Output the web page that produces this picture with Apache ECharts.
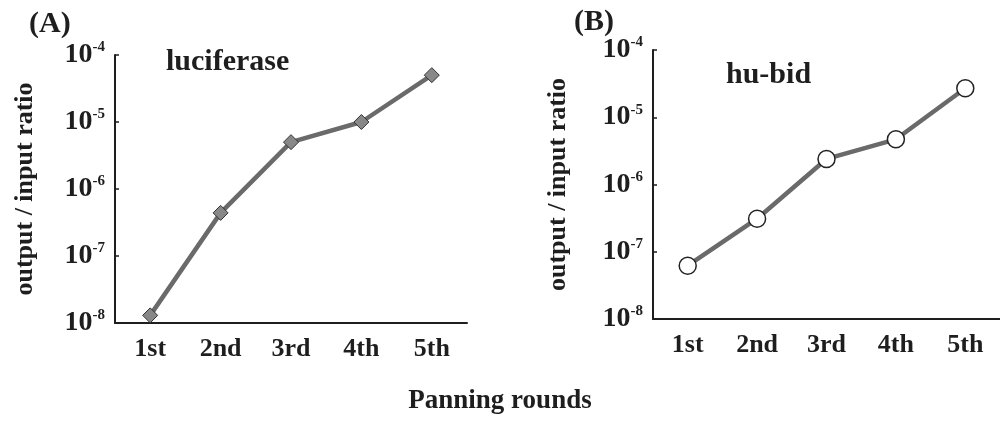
<!DOCTYPE html>
<html>
<head>
<meta charset="utf-8">
<script src="https://cdn.jsdelivr.net/npm/echarts@6/dist/echarts.min.js"></script>
<style>
  html, body { margin: 0; padding: 0; background: #fff; }
  #main { width: 1000px; height: 422px; }
</style>
</head>
<body>
<div id="main"></div>
<script>
// panning rounds and output/input ratios
var rounds = ['1st', '2nd', '3rd', '4th', '5th'];
var luciferase = [1.3e-8, 4.4e-7, 5.0e-6, 1.0e-5, 5.0e-5];
var huBid = [6.2e-8, 3.1e-7, 2.4e-6, 4.7e-6, 2.7e-5];
var yMin = 1e-8;
var yMax = 1e-4;

var serif = '"Liberation Serif", "DejaVu Serif", serif';
var ink = '#1e1e1e';

function powLabel(v) {
    var e = Math.round(Math.log10(v));
    return '{b|10}{s|' + e + '}';
}

function yAxisFor(idx, gap) {
    return {
        type: 'log',
        logBase: 10,
        gridIndex: idx,
        min: yMin,
        max: yMax,
        name: 'output / input ratio',
        nameLocation: 'middle',
        nameGap: gap,
        nameTextStyle: { fontFamily: serif, fontWeight: 'bold', fontSize: 26, color: ink },
        axisLine: { show: true, lineStyle: { color: ink, width: 2 } },
        axisTick: { show: true, inside: true, length: 4, lineStyle: { color: ink, width: 1.5 } },
        splitLine: { show: false },
        axisLabel: {
            margin: 10,
            formatter: powLabel,
            rich: {
                b: { fontFamily: serif, fontWeight: 'bold', fontSize: 28, color: ink, lineHeight: 30 },
                s: { fontFamily: serif, fontWeight: 'bold', fontSize: 15, color: ink, verticalAlign: 'top', lineHeight: 30 }
            }
        }
    };
}

function xAxisFor(idx) {
    return {
        type: 'category',
        gridIndex: idx,
        data: rounds,
        boundaryGap: true,
        axisLine: { lineStyle: { color: ink, width: 2 } },
        axisTick: { inside: true, length: 4, lineStyle: { color: ink, width: 1.5 } },
        axisLabel: { margin: 13, fontFamily: serif, fontWeight: 'bold', fontSize: 26, color: ink }
    };
}

var chart = echarts.init(document.getElementById('main'));
chart.setOption({
    backgroundColor: '#fff',
    animation: false,
    title: [
        { text: '(A)', left: 24, top: 4, textStyle: { fontFamily: serif, fontWeight: 'bold', fontSize: 30, color: ink } },
        { text: '(B)', left: 569, top: 2, textStyle: { fontFamily: serif, fontWeight: 'bold', fontSize: 30, color: ink } },
        { text: 'luciferase', left: 161, top: 42, textStyle: { fontFamily: serif, fontWeight: 'bold', fontSize: 30, color: ink } },
        { text: 'hu-bid', left: 721, top: 55, textStyle: { fontFamily: serif, fontWeight: 'bold', fontSize: 30, color: ink } },
        { text: 'Panning rounds', left: 'center', top: 383, textStyle: { fontFamily: serif, fontWeight: 'bold', fontSize: 27, color: ink } }
    ],
    grid: [
        { left: 115, top: 55, width: 352, height: 268 },
        { left: 653, top: 50, width: 357, height: 269 }
    ],
    xAxis: [xAxisFor(0), xAxisFor(1)],
    yAxis: [yAxisFor(0, 77), yAxisFor(1, 82)],
    series: [
        {
            type: 'line',
            xAxisIndex: 0,
            yAxisIndex: 0,
            data: luciferase,
            symbol: 'diamond',
            symbolSize: 15,
            lineStyle: { color: '#6a6a6a', width: 4.5 },
            itemStyle: { color: '#888', borderColor: '#333', borderWidth: 1 }
        },
        {
            type: 'line',
            xAxisIndex: 1,
            yAxisIndex: 1,
            data: huBid,
            symbol: 'circle',
            symbolSize: 17,
            lineStyle: { color: '#6a6a6a', width: 4.5 },
            itemStyle: { color: '#fff', borderColor: '#222', borderWidth: 1.5 }
        }
    ]
});
</script>
</body>
</html>
